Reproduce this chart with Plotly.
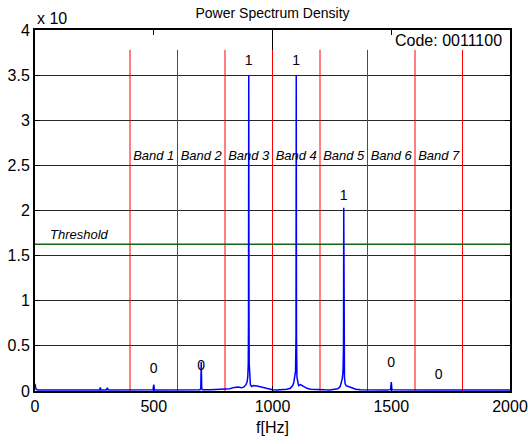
import plotly.graph_objects as go

# ---------------- data ----------------
freq = [0, 4, 12, 30, 60, 100, 140, 180, 220, 260, 272, 275, 278, 300, 305, 308, 340, 380, 420, 460,
        490, 497, 500, 503, 520, 560, 600, 640, 680, 695, 698, 700, 702, 705, 740, 760, 780, 800,
        820, 840, 855, 870, 880, 888, 893, 896, 898, 899, 900, 901, 902, 904, 907, 912, 920, 935,
        950, 965, 980, 1000, 1020, 1040, 1060, 1075, 1085, 1090, 1094, 1097, 1099, 1100, 1101, 1103,
        1106, 1110, 1118, 1130, 1145, 1160, 1180, 1200, 1220, 1240, 1260, 1275, 1285, 1290, 1294,
        1297, 1299, 1300, 1301, 1303, 1306, 1310, 1320, 1335, 1350, 1370, 1400, 1440, 1480, 1497,
        1500, 1503, 1540, 1580, 1620, 1660, 1700, 1740, 1780, 1820, 1860, 1900, 1940, 1980, 2000]
psd = [0.08, 0.02, 0.012, 0.01, 0.013, 0.01, 0.012, 0.01, 0.011, 0.012, 0.01, 0.04, 0.01, 0.012, 0.035, 0.01, 0.011, 0.012, 0.01, 0.013,
       0.012, 0.014, 0.07, 0.012, 0.01, 0.012, 0.011, 0.013, 0.012, 0.015, 0.03, 0.32, 0.03, 0.014, 0.013, 0.015, 0.014, 0.015,
       0.025, 0.04, 0.045, 0.035, 0.045, 0.07, 0.1, 0.16, 0.3, 0.8, 3.5, 0.8, 0.3, 0.12, 0.07, 0.05, 0.06, 0.055,
       0.045, 0.04, 0.025, 0.015, 0.012, 0.014, 0.02, 0.03, 0.06, 0.1, 0.15, 0.22, 0.6, 3.5, 0.6, 0.15,
       0.08, 0.06, 0.07, 0.05, 0.03, 0.02, 0.015, 0.012, 0.013, 0.012, 0.015, 0.025, 0.05, 0.09, 0.14,
       0.22, 0.5, 2.03, 0.5, 0.15, 0.08, 0.06, 0.05, 0.035, 0.02, 0.015, 0.012, 0.011, 0.012, 0.015,
       0.1, 0.015, 0.012, 0.011, 0.012, 0.01, 0.012, 0.011, 0.01, 0.012, 0.01, 0.011, 0.01, 0.012, 0.01]

band_edges = [400, 600, 800, 1000, 1200, 1400, 1600, 1800]
band_top = 3.78
band_names = ["Band 1", "Band 2", "Band 3", "Band 4", "Band 5", "Band 6", "Band 7"]
band_centers = [500, 700, 900, 1100, 1300, 1500, 1700]
band_label_y = 2.6
bit_labels = ["0", "0", "1", "1", "1", "0", "0"]
bit_label_y = [0.24, 0.27, 3.65, 3.65, 2.15, 0.3, 0.17]
threshold = 1.625
code_text = "Code: 0011100"

FONT = "Liberation Sans, Arial, sans-serif"

fig = go.Figure()

# black marker line at 1000 Hz (visible above the red band line)
fig.add_trace(go.Scatter(x=[1000, 1000], y=[0, 4], mode="lines",
                         line=dict(color="black", width=1), hoverinfo="skip", showlegend=False))

# band boundaries
bx, by = [], []
for e in band_edges:
    bx += [e, e, None]
    by += [0, band_top, None]
fig.add_trace(go.Scatter(x=bx, y=by, mode="lines", line=dict(color="red", width=1),
                         hoverinfo="skip", showlegend=False))

# threshold
fig.add_trace(go.Scatter(x=[0, 2000], y=[threshold, threshold], mode="lines",
                         line=dict(color="rgb(20,100,20)", width=1.5), showlegend=False))

# spectrum
fig.add_trace(go.Scatter(x=freq, y=psd, mode="lines", line=dict(color="blue", width=1.5),
                         showlegend=False))

# band labels
fig.add_trace(go.Scatter(x=band_centers, y=[band_label_y] * len(band_centers), mode="text",
                         text=band_names, textposition="middle center",
                         textfont=dict(family=FONT, size=13, color="black", style="italic"),
                         showlegend=False))

# bit labels
fig.add_trace(go.Scatter(x=band_centers, y=bit_label_y, mode="text", text=bit_labels,
                         textposition="middle center",
                         textfont=dict(family=FONT, size=14, color="black"), showlegend=False))

fig.update_layout(
    width=528, height=444,
    margin=dict(l=35, r=18, t=30, b=53),
    paper_bgcolor="white", plot_bgcolor="white",
    font=dict(family=FONT, size=16, color="black"),
    title=dict(text="Power Spectrum Density", xref="paper", x=0.5, xanchor="center",
               yref="paper", y=1, yanchor="bottom", pad=dict(b=12),
               font=dict(family=FONT, size=14, color="black")),
    xaxis=dict(range=[0, 2000], tickvals=[0, 500, 1000, 1500, 2000], showgrid=False,
               showline=True, linecolor="black", linewidth=2, mirror="ticks",
               ticks="inside", ticklen=5, tickcolor="black", zeroline=False, automargin=False,
               title=dict(text="f[Hz]", standoff=8, font=dict(size=16)),
               tickfont=dict(size=16)),
    yaxis=dict(range=[0, 4], tickvals=[0, 0.5, 1, 1.5, 2, 2.5, 3, 3.5, 4],
               ticktext=["0", "0.5", "1", "1.5", "2", "2.5", "3", "3.5", "4"],
               showgrid=True, gridcolor="rgb(40,40,40)", gridwidth=1,
               showline=True, linecolor="black", linewidth=2, mirror="ticks",
               ticks="inside", ticklen=5, tickcolor="black", zeroline=False, automargin=False,
               tickfont=dict(size=16)),
    annotations=[
        dict(text="x 10", xref="paper", yref="paper", x=0, y=1, xanchor="left", yanchor="bottom",
             yshift=1, showarrow=False, font=dict(family=FONT, size=16, color="black")),
        dict(text=code_text, xref="paper", yref="paper", x=1, y=1, xanchor="right", yanchor="top",
             xshift=-6, yshift=0, showarrow=False, font=dict(family=FONT, size=16, color="black")),
        dict(text="Threshold", xref="x", yref="y", x=55, y=threshold, xanchor="left",
             yanchor="bottom", yshift=0, showarrow=False,
             font=dict(family=FONT, size=13, color="black", style="italic")),
    ],
)

fig.write_html("out.html", config={"displayModeBar": False},
               post_script="document.body.style.margin='0';document.body.style.overflow='hidden';")
